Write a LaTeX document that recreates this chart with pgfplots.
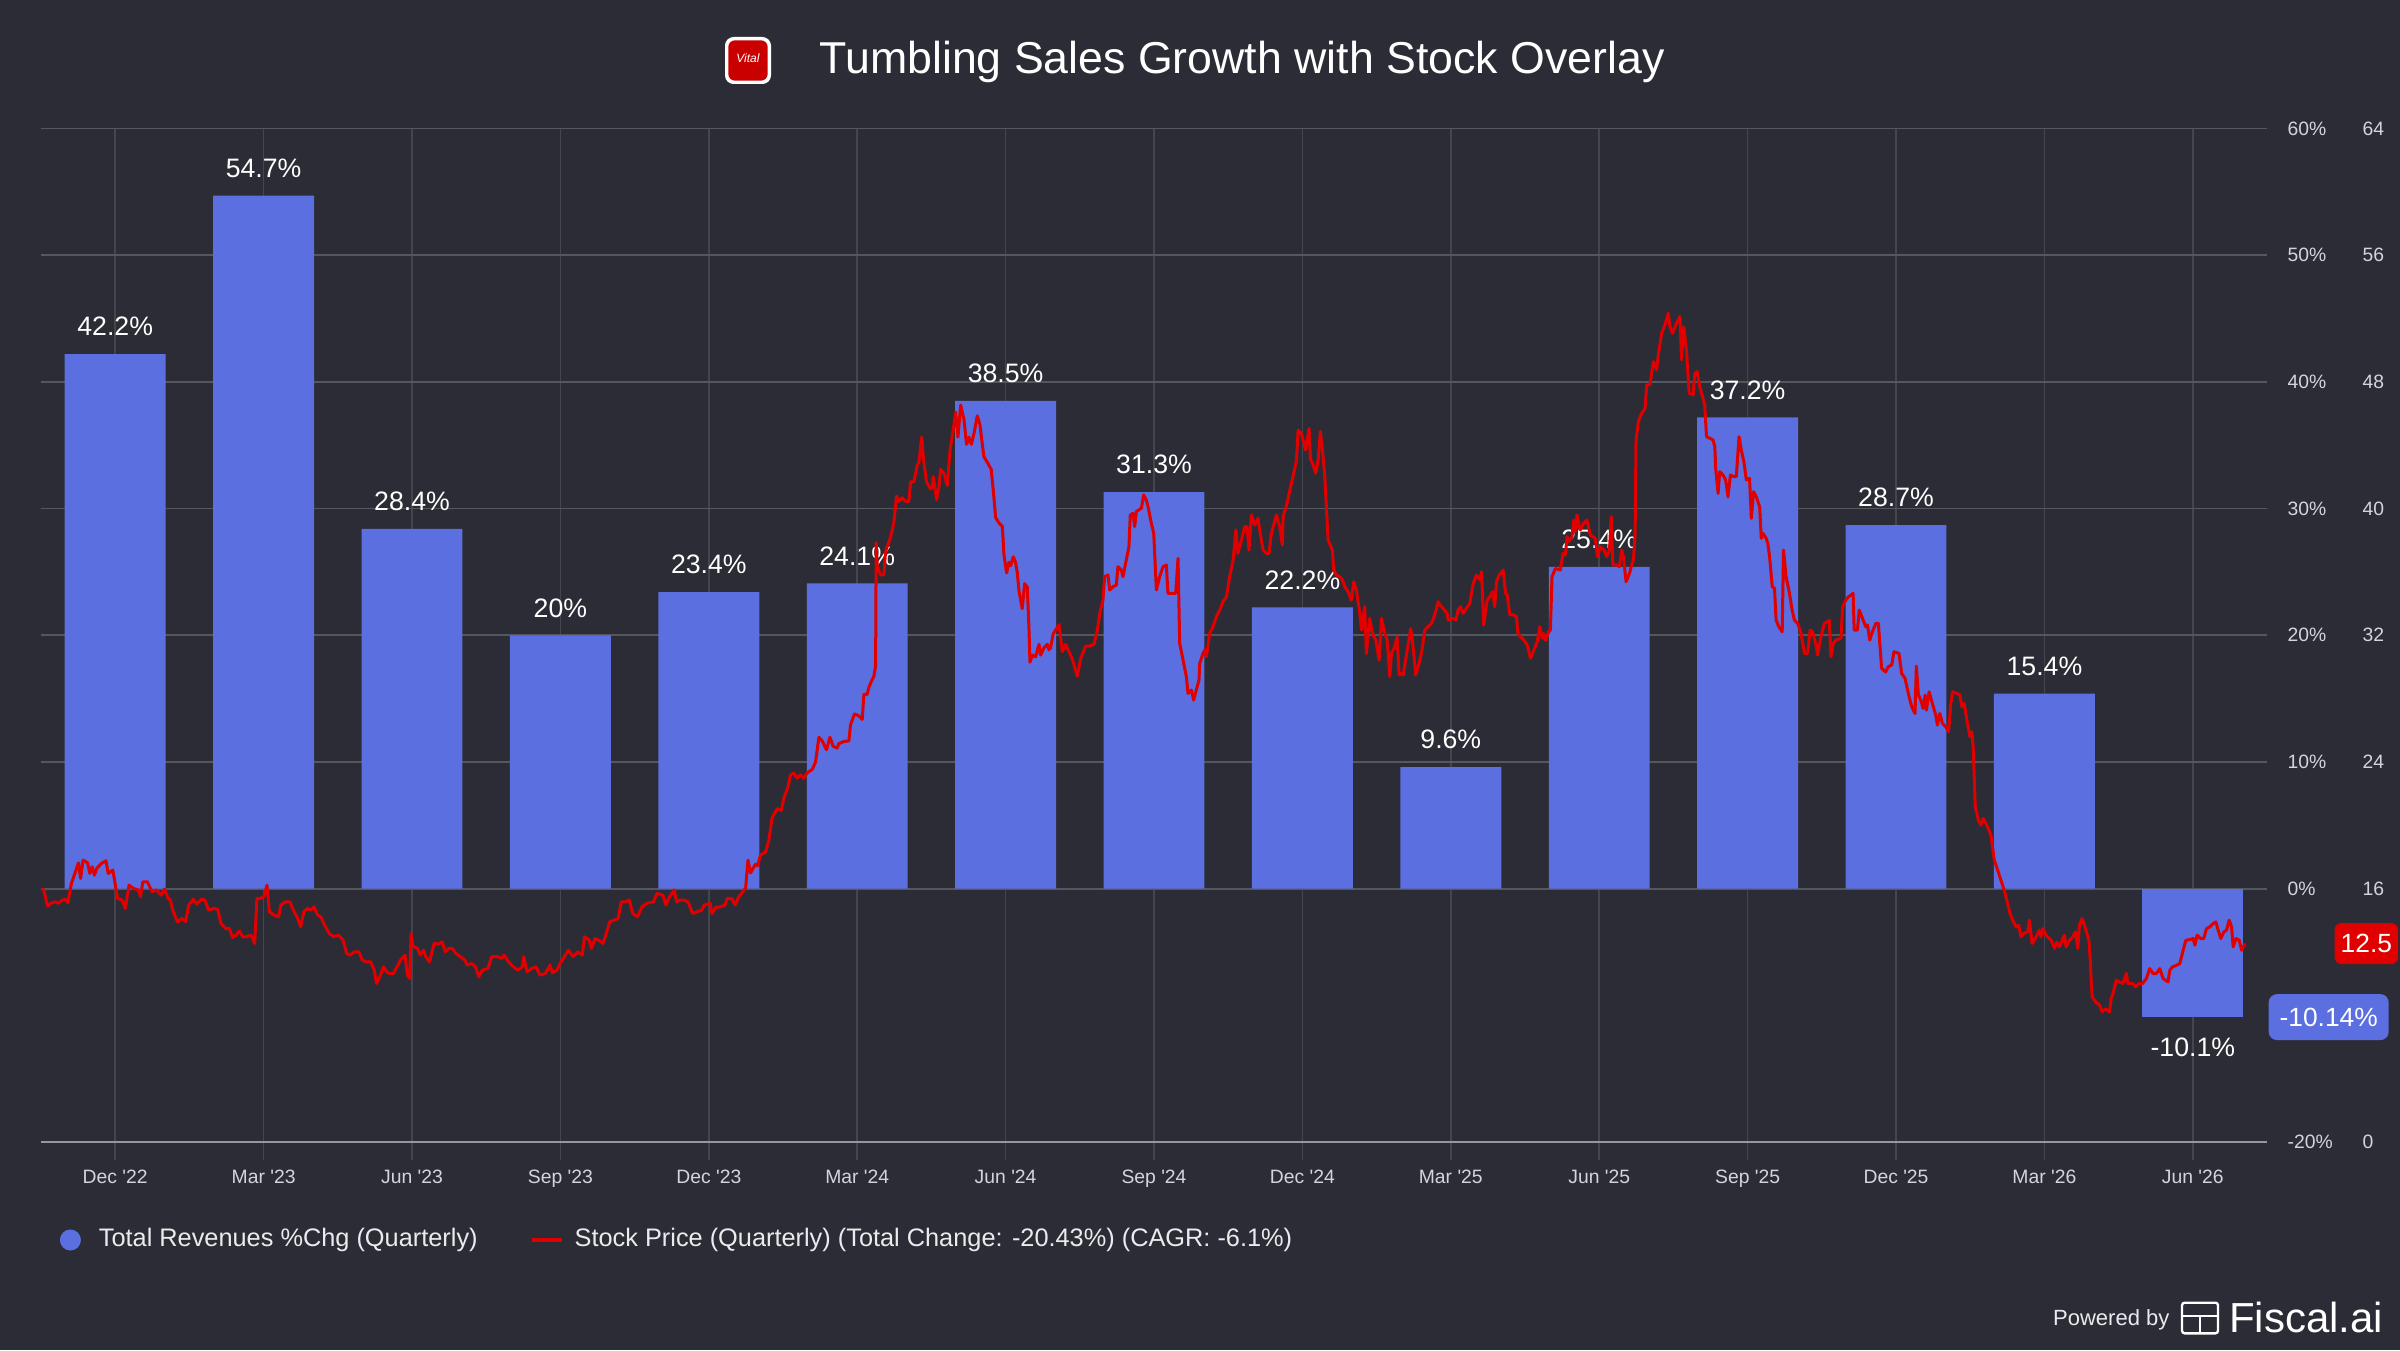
\documentclass[border=0pt]{standalone}
\usepackage{pgfplots}
\pgfplotsset{compat=1.18}
\usepackage{pgfplotstable}
\usepackage{fontspec}
\setmainfont{Liberation Sans}
\definecolor{bg}{RGB}{43,44,53}
\definecolor{barblue}{RGB}{91,111,225}
\definecolor{stockred}{RGB}{224,0,0}
\definecolor{gridh}{RGB}{85,87,95}
\definecolor{gridv}{RGB}{68,70,78}
\definecolor{baseln}{RGB}{150,150,156}
\definecolor{ticktext}{RGB}{212,212,217}
\definecolor{legendtext}{RGB}{235,235,238}

\pgfplotstableread{
q p
-0.496 16.01
-0.481 15.91
-0.456 14.90
-0.434 15.07
-0.403 15.17
-0.381 15.07
-0.357 15.28
-0.332 15.32
-0.319 15.11
-0.295 16.33
-0.264 17.17
-0.248 17.63
-0.233 16.64
-0.217 17.80
-0.186 17.63
-0.171 16.96
-0.155 17.38
-0.140 16.85
-0.124 17.28
-0.093 17.59
-0.062 17.76
-0.047 16.96
-0.016 17.17
0.016 15.38
0.047 15.28
0.068 14.75
0.093 16.22
0.124 16.01
0.155 15.91
0.171 15.49
0.186 16.43
0.217 16.43
0.248 15.80
0.279 15.91
0.310 15.59
0.332 15.97
0.357 15.38
0.372 15.28
0.388 14.64
0.419 13.91
0.450 14.12
0.474 13.91
0.496 14.96
0.527 15.32
0.549 15.02
0.580 15.32
0.605 15.28
0.629 14.64
0.667 14.75
0.691 14.69
0.713 13.80
0.744 13.49
0.769 13.49
0.791 12.92
0.816 13.07
0.837 13.32
0.859 12.96
0.884 12.96
0.915 13.07
0.940 12.54
0.955 15.38
0.977 15.38
1.002 15.49
1.023 16.22
1.039 14.54
1.070 14.33
1.101 14.22
1.116 14.96
1.147 15.17
1.178 15.17
1.200 14.64
1.225 14.22
1.250 13.59
1.271 14.54
1.296 14.75
1.318 14.64
1.340 14.85
1.364 14.33
1.386 14.22
1.411 13.70
1.442 13.17
1.473 12.96
1.504 13.07
1.535 12.75
1.560 11.91
1.581 11.80
1.612 12.01
1.643 12.01
1.665 11.48
1.690 11.38
1.721 11.38
1.746 10.85
1.761 10.01
1.783 10.43
1.808 11.06
1.829 10.75
1.845 10.64
1.876 10.64
1.901 11.10
1.922 11.48
1.953 11.80
1.969 10.54
1.984 10.33
1.994 13.17
2.006 12.37
2.037 12.22
2.056 11.80
2.078 12.12
2.093 11.70
2.118 11.38
2.149 12.54
2.180 12.50
2.202 12.64
2.226 12.01
2.248 12.22
2.273 12.22
2.295 11.91
2.326 11.70
2.357 11.48
2.372 11.17
2.403 11.27
2.428 11.06
2.450 10.43
2.474 10.85
2.512 10.96
2.536 11.70
2.574 11.70
2.605 11.59
2.620 11.80
2.651 11.38
2.682 11.06
2.713 10.85
2.744 11.06
2.753 11.70
2.775 10.75
2.806 10.96
2.837 11.06
2.862 10.54
2.899 10.64
2.930 11.17
2.946 10.69
2.977 10.85
2.998 11.27
3.054 12.12
3.085 11.70
3.116 12.01
3.147 11.80
3.163 12.96
3.194 12.75
3.209 12.22
3.234 12.85
3.256 12.75
3.287 12.54
3.302 12.96
3.333 13.91
3.364 14.01
3.389 14.12
3.411 15.17
3.442 15.17
3.464 15.28
3.488 14.43
3.519 14.22
3.550 14.85
3.581 15.07
3.628 15.17
3.650 15.70
3.690 15.59
3.712 14.96
3.736 15.49
3.767 15.91
3.783 15.17
3.805 15.28
3.829 15.28
3.860 15.17
3.891 14.43
3.922 14.54
3.953 14.64
3.969 14.96
4.009 15.07
4.022 14.43
4.047 14.81
4.078 14.85
4.109 14.96
4.124 15.38
4.155 15.38
4.177 14.96
4.202 15.49
4.248 16.01
4.264 17.80
4.281 16.99
4.315 17.55
4.330 17.44
4.348 18.12
4.382 18.30
4.404 19.02
4.427 20.48
4.461 21.05
4.488 20.94
4.506 21.72
4.533 22.40
4.551 23.19
4.573 23.30
4.596 22.97
4.618 23.19
4.640 22.97
4.663 23.30
4.697 23.53
4.719 23.98
4.742 25.56
4.764 25.33
4.793 24.77
4.816 25.56
4.838 24.99
4.865 24.88
4.876 25.15
4.910 25.29
4.944 25.33
4.955 26.35
4.982 27.03
5.011 26.91
5.034 26.69
5.045 28.27
5.067 28.27
5.079 28.72
5.094 29.06
5.112 29.40
5.124 30.07
5.128 37.85
5.135 36.39
5.157 35.82
5.180 35.82
5.191 37.29
5.225 38.19
5.247 39.10
5.265 40.79
5.281 40.45
5.292 40.56
5.303 40.68
5.326 40.45
5.348 40.45
5.360 41.69
5.382 41.69
5.404 42.71
5.416 42.93
5.434 44.51
5.449 42.93
5.467 41.69
5.494 41.24
5.506 41.35
5.512 42.03
5.535 40.56
5.551 41.35
5.562 42.48
5.584 42.25
5.607 41.46
5.625 43.61
5.652 45.30
5.663 46.09
5.679 44.51
5.697 46.54
5.719 45.64
5.737 44.06
5.753 44.51
5.769 44.06
5.787 44.74
5.809 45.86
5.827 45.30
5.843 44.06
5.854 43.27
5.876 42.93
5.903 42.48
5.917 41.13
5.933 39.43
5.955 39.10
5.978 38.87
5.989 37.07
6.007 35.94
6.022 36.61
6.034 36.39
6.052 36.95
6.067 36.61
6.079 35.94
6.090 34.81
6.112 33.68
6.128 35.26
6.146 35.04
6.157 32.55
6.164 30.30
6.180 30.75
6.202 30.64
6.225 31.43
6.236 30.75
6.258 31.20
6.281 31.43
6.292 31.09
6.303 31.20
6.321 32.10
6.337 32.33
6.360 32.67
6.382 30.97
6.404 31.43
6.427 30.97
6.449 30.52
6.483 29.40
6.506 30.52
6.539 31.31
6.562 31.31
6.596 31.43
6.618 32.33
6.636 33.46
6.656 34.22
6.667 35.70
6.690 35.80
6.701 34.86
6.724 35.07
6.746 35.17
6.757 36.33
6.780 36.12
6.791 35.70
6.813 36.75
6.831 37.59
6.840 39.59
6.858 39.70
6.870 38.86
6.881 39.81
6.915 40.02
6.930 40.86
6.948 40.54
6.960 40.12
6.982 39.07
6.998 38.44
7.016 34.86
7.038 35.70
7.061 36.33
7.083 36.44
7.094 34.65
7.128 34.65
7.146 34.65
7.162 36.86
7.173 31.49
7.196 30.43
7.218 29.38
7.229 28.33
7.252 28.54
7.267 27.91
7.285 28.54
7.303 29.17
7.308 30.22
7.330 30.85
7.342 31.07
7.353 30.64
7.375 32.12
7.398 32.54
7.420 33.17
7.443 33.59
7.465 34.12
7.488 34.43
7.510 35.70
7.533 36.75
7.551 38.65
7.566 37.17
7.589 38.01
7.611 38.86
7.627 38.86
7.640 37.38
7.656 39.59
7.667 39.28
7.679 38.96
7.701 39.38
7.712 38.65
7.735 37.38
7.757 37.17
7.775 37.17
7.791 38.44
7.825 39.59
7.847 38.86
7.865 37.70
7.870 39.49
7.897 40.33
7.915 41.17
7.937 42.02
7.960 43.07
7.971 44.96
7.993 44.75
8.022 43.70
8.045 45.07
8.054 43.17
8.072 42.75
8.090 42.23
8.106 43.07
8.121 44.86
8.135 43.70
8.151 42.02
8.173 38.01
8.202 37.38
8.211 36.12
8.229 35.80
8.252 35.70
8.270 35.49
8.285 35.07
8.308 34.75
8.330 34.22
8.346 35.38
8.364 34.86
8.387 33.38
8.398 32.33
8.420 33.80
8.431 30.85
8.454 33.07
8.472 32.12
8.494 31.70
8.517 30.43
8.533 33.07
8.555 32.12
8.571 31.70
8.589 29.38
8.600 30.85
8.622 31.28
8.638 31.91
8.652 29.49
8.667 29.59
8.679 29.49
8.701 30.75
8.730 32.43
8.746 31.28
8.764 29.49
8.780 30.01
8.802 30.85
8.825 32.33
8.847 32.54
8.870 32.75
8.892 33.28
8.915 34.12
8.926 33.91
8.948 33.70
8.975 33.38
8.982 32.96
9.016 33.07
9.034 32.96
9.049 33.59
9.065 33.80
9.083 33.38
9.106 33.70
9.128 34.01
9.151 35.28
9.173 35.80
9.196 35.49
9.207 36.02
9.222 32.64
9.245 34.22
9.263 34.43
9.281 34.75
9.296 33.80
9.308 35.38
9.326 35.80
9.353 36.12
9.369 34.65
9.380 34.54
9.398 33.28
9.425 33.28
9.443 33.17
9.452 32.12
9.470 31.91
9.492 31.70
9.515 31.38
9.537 30.54
9.555 30.96
9.582 31.59
9.600 32.54
9.615 31.80
9.626 32.12
9.638 31.70
9.660 32.22
9.671 32.33
9.682 35.70
9.705 36.22
9.738 36.12
9.756 37.17
9.772 37.07
9.783 38.23
9.794 37.91
9.817 38.23
9.828 39.28
9.839 38.54
9.850 39.59
9.872 38.65
9.895 39.07
9.917 39.28
9.940 38.33
9.957 38.23
9.973 38.12
9.989 36.96
10.007 37.59
10.018 37.49
10.034 37.38
10.051 36.96
10.069 37.38
10.081 39.49
10.092 36.44
10.119 36.44
10.136 36.33
10.152 37.38
10.163 36.96
10.181 35.38
10.204 35.91
10.219 36.44
10.230 36.75
10.242 38.33
10.248 44.33
10.264 45.49
10.286 46.02
10.309 46.33
10.320 47.81
10.342 47.81
10.365 49.28
10.387 48.76
10.398 49.70
10.421 51.07
10.443 51.60
10.465 52.34
10.477 51.49
10.494 51.07
10.521 51.70
10.544 52.13
10.555 49.39
10.570 51.49
10.588 50.02
10.606 47.28
10.633 47.18
10.644 48.54
10.660 48.65
10.678 47.70
10.696 47.07
10.711 46.54
10.723 44.54
10.745 44.44
10.767 44.33
10.779 43.91
10.785 42.54
10.801 40.96
10.812 42.33
10.834 42.12
10.852 41.81
10.868 40.75
10.884 42.12
10.906 42.02
10.924 42.02
10.942 44.54
10.957 43.70
10.975 42.96
10.991 41.81
11.013 41.91
11.025 39.38
11.040 41.07
11.058 40.75
11.081 40.12
11.092 38.12
11.103 38.44
11.125 38.12
11.136 37.80
11.148 36.96
11.166 35.07
11.181 34.96
11.192 32.96
11.210 32.54
11.233 32.22
11.242 37.38
11.259 35.70
11.282 34.65
11.300 33.59
11.315 32.96
11.338 32.75
11.360 32.12
11.383 30.85
11.405 30.85
11.421 32.33
11.438 32.22
11.461 31.38
11.472 30.75
11.494 31.91
11.517 32.75
11.539 32.86
11.550 32.96
11.562 30.64
11.577 31.49
11.595 31.70
11.629 31.80
11.640 33.80
11.662 34.22
11.680 34.43
11.711 34.65
11.718 32.33
11.740 32.33
11.752 33.59
11.774 33.07
11.796 32.54
11.808 32.65
11.823 31.70
11.841 32.22
11.864 32.75
11.881 32.75
11.903 29.91
11.930 29.69
11.948 30.01
11.971 30.12
11.986 30.96
12.020 30.85
12.038 29.59
12.061 29.27
12.088 28.12
12.106 27.48
12.128 27.06
12.137 30.05
12.151 28.22
12.167 27.91
12.182 27.38
12.196 28.22
12.205 27.27
12.223 28.43
12.245 27.69
12.268 26.96
12.279 26.33
12.295 27.06
12.313 26.43
12.336 26.22
12.354 25.90
12.369 27.69
12.381 28.43
12.408 28.33
12.430 28.22
12.444 27.48
12.459 27.69
12.482 26.43
12.498 25.59
12.511 25.90
12.520 24.96
12.534 21.17
12.556 20.32
12.572 20.01
12.588 20.43
12.617 19.90
12.640 19.38
12.662 17.80
12.678 17.37
12.696 16.85
12.718 16.22
12.736 15.69
12.752 15.06
12.768 14.43
12.786 14.01
12.809 13.58
12.827 13.69
12.842 12.95
12.858 13.16
12.887 13.27
12.899 14.01
12.917 12.53
12.944 12.95
12.966 13.37
12.977 12.95
12.989 13.48
13.011 13.06
13.045 12.74
13.068 12.22
13.083 12.63
13.101 12.32
13.135 13.06
13.146 12.32
13.169 12.74
13.191 12.95
13.209 13.27
13.225 12.22
13.236 13.69
13.254 14.11
13.270 13.69
13.300 12.74
13.309 11.48
13.315 10.22
13.322 9.16
13.345 8.85
13.372 8.64
13.390 8.21
13.412 8.42
13.439 8.21
13.450 9.06
13.462 9.37
13.484 10.22
13.507 10.11
13.529 10.00
13.552 10.64
13.563 10.00
13.597 10.00
13.615 9.79
13.637 10.00
13.660 10.00
13.687 10.32
13.709 10.95
13.732 10.64
13.755 10.64
13.777 10.95
13.800 10.32
13.833 10.11
13.845 10.85
13.863 11.06
13.890 11.16
13.912 11.27
13.935 12.11
13.953 12.74
13.980 12.78
14.002 12.85
14.014 12.43
14.029 13.06
14.052 12.85
14.074 12.85
14.092 13.48
14.115 13.58
14.137 13.79
14.155 13.90
14.171 13.37
14.189 12.85
14.209 13.27
14.227 13.37
14.245 14.01
14.261 13.58
14.272 12.32
14.291 12.85
14.313 12.74
14.329 12.11
14.351 12.53
}\stock

\begin{document}
\begin{tikzpicture}
\fill[bg] (0pt,0pt) rectangle (720pt,405pt);
\useasboundingbox (0pt,0pt) rectangle (720pt,405pt);

% title with logo
\fill[white, rounded corners=2.6pt] (217.5pt,379.8pt) rectangle (231.3pt,393.9pt);
\fill[stockred!90!black, rounded corners=2pt] (218.5pt,380.8pt) rectangle (230.3pt,392.9pt);
\node[text=white, font=\fontsize{3.6}{4}\selectfont\itshape, inner sep=0pt] at (224.4pt,387.4pt) {Vital};
\node[anchor=base west, inner sep=0pt, text=white, font=\fontsize{13.4}{16}\selectfont] at (245.7pt,382.8pt) {Tumbling Sales Growth with Stock Overlay};

\begin{axis}[
  at={(12.3pt,62.4pt)}, anchor=south west,
  width=667.8pt, height=304.05pt, scale only axis,
  xmin=-0.5, xmax=14.5, ymin=-20, ymax=60,
  clip=false,
  axis line style={draw=none},
  xtick={0,...,14},
  xticklabels={Dec \textquotesingle22,Mar \textquotesingle23,Jun \textquotesingle23,Sep \textquotesingle23,Dec \textquotesingle23,Mar \textquotesingle24,Jun \textquotesingle24,Sep \textquotesingle24,Dec \textquotesingle24,Mar \textquotesingle25,Jun \textquotesingle25,Sep \textquotesingle25,Dec \textquotesingle25,Mar \textquotesingle26,Jun \textquotesingle26},
  xtick pos=left, tick align=outside, major tick length=5.4pt,
  xtick style={draw=gridv, line width=0.5pt},
  ytick={-20,0,10,20,30,40,50,60},
  yticklabels={-20\%,0\%,10\%,20\%,30\%,40\%,50\%,60\%},
  ytick pos=right, yticklabel pos=right,
  ytick style={draw=none},
  yticklabel style={anchor=west, inner sep=0pt, xshift=0.6pt},
  xticklabel style={inner sep=0pt, yshift=-2.8pt},
  tick label style={font=\fontsize{5.8}{7}\selectfont, text=ticktext},
  xmajorgrids, ymajorgrids,
  x grid style={draw=gridv, line width=0.5pt},
  y grid style={draw=gridh, line width=0.55pt},
  legend style={at={(0.0085,-0.0967)}, anchor=west, draw=none, fill=none,
    inner sep=0pt, outer sep=0pt, font=\fontsize{7.6}{9}\selectfont,
    text=legendtext, nodes={inner sep=0pt, text=legendtext},
    /tikz/column 1/.style={column sep=5.4pt},
    /tikz/column 2/.style={column sep=15.6pt},
    /tikz/column 3/.style={column sep=3.3pt}},
  legend columns=2, legend cell align=left,
]
\addplot[ybar, bar width=0.68, bar shift=0pt, fill=barblue, draw=none,
  point meta=explicit symbolic,
  nodes near coords,
  every node near coord/.append style={anchor=south, text=white, font=\fontsize{8}{9.6}\selectfont, inner xsep=0pt, inner ysep=5.2pt},
  legend image code/.code={\fill[barblue] (3.15pt,0pt) circle (3.15pt);}
] coordinates {
(0,42.2) [42.2\%]
(1,54.7) [54.7\%]
(2,28.4) [28.4\%]
(3,20) [20\%]
(4,23.4) [23.4\%]
(5,24.1) [24.1\%]
(6,38.5) [38.5\%]
(7,31.3) [31.3\%]
(8,22.2) [22.2\%]
(9,9.6) [9.6\%]
(10,25.4) [25.4\%]
(11,37.2) [37.2\%]
(12,28.7) [28.7\%]
(13,15.4) [15.4\%]
};
\addlegendentry{Total Revenues \%Chg (Quarterly)}
\addplot[ybar, bar width=0.68, bar shift=0pt, fill=barblue, draw=none, forget plot,
  point meta=explicit symbolic,
  nodes near coords,
  every node near coord/.append style={anchor=north, text=white, font=\fontsize{8}{9.6}\selectfont, inner xsep=0pt, inner ysep=6pt}
] coordinates {
(14,-10.14) [-10.1\%]
};
\addlegendimage{legend image code/.code={\draw[stockred, line width=1.2pt] (0pt,0pt) -- (9pt,0pt);}}
\addlegendentry{Stock Price (Quarterly) (Total Change: -20.43\%) (CAGR: -6.1\%)}
\draw[baseln, line width=0.8pt] (rel axis cs:0,0) -- (rel axis cs:1,0);
\node[anchor=west, xshift=0.3pt, fill=barblue, rounded corners=2.5pt, minimum width=36pt, minimum height=13.8pt, inner sep=0pt, text=white, font=\fontsize{7.9}{9}\selectfont] at (axis cs:14.5,-10.14) {-10.14\%};
\end{axis}

\begin{axis}[
  at={(12.3pt,62.4pt)}, anchor=south west,
  width=667.8pt, height=304.05pt, scale only axis,
  xmin=-0.5, xmax=14.5, ymin=0, ymax=64,
  clip=false,
  axis line style={draw=none},
  xtick=\empty,
  ytick={0,16,24,32,40,48,56,64},
  yticklabels={0,16,24,32,40,48,56,64},
  ytick pos=right, yticklabel pos=right,
  ytick style={draw=none},
  yticklabel style={anchor=west, inner sep=0pt, xshift=28.5pt, font=\fontsize{5.8}{7}\selectfont, text=ticktext},
]
\addplot[stockred, line width=0.9pt, line join=round, mark=none] table[x=q, y=p] {\stock};
\node[anchor=west, xshift=20.1pt, fill=stockred, rounded corners=2pt, minimum width=19pt, minimum height=12.3pt, inner sep=0pt, text=white, font=\fontsize{7.9}{9}\selectfont] at (axis cs:14.5,12.53) {12.5};
\end{axis}

% footer
\node[anchor=base east, inner sep=0pt, text=legendtext, font=\fontsize{6.6}{8}\selectfont] at (651pt,7.5pt) {Powered by};
\draw[white, line width=0.7pt, rounded corners=0.8pt] (654.6pt,5.0pt) rectangle (665.4pt,14.2pt);
\draw[white, line width=0.6pt] (654.6pt,10.2pt) -- (665.4pt,10.2pt);
\draw[white, line width=0.6pt] (660pt,5.0pt) -- (660pt,10.2pt);
\node[anchor=base west, inner sep=0pt, text=white, font=\fontsize{12.6}{15}\selectfont] at (668.5pt,5.4pt) {Fiscal.ai};
\end{tikzpicture}
\end{document}
